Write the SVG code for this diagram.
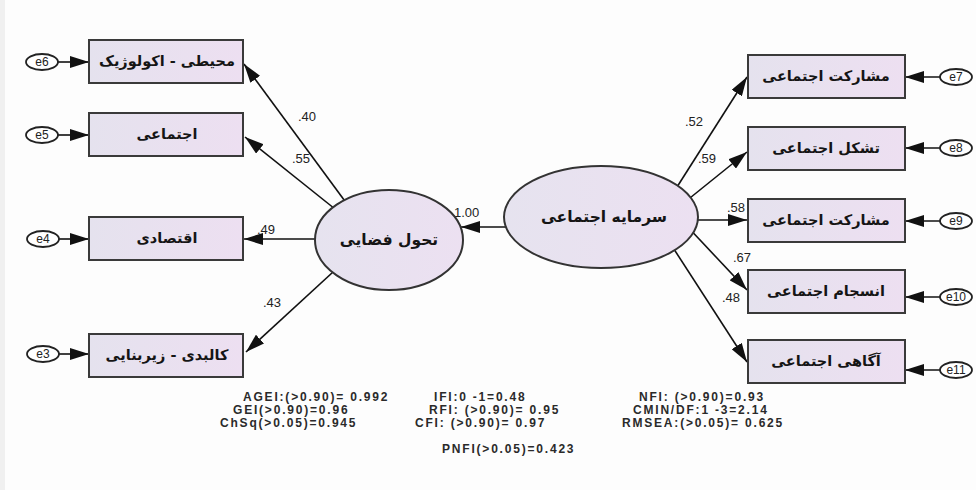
<svg xmlns="http://www.w3.org/2000/svg" width="976" height="490" viewBox="0 0 976 490">
<defs>
<linearGradient id="boxg" x1="0" y1="0" x2="1" y2="0">
<stop offset="0" stop-color="#e5e2ee"/><stop offset="1" stop-color="#eddff1"/>
</linearGradient>
<linearGradient id="ellg" x1="0" y1="0" x2="1" y2="0">
<stop offset="0" stop-color="#e6e3ef"/><stop offset="1" stop-color="#ece0f1"/>
</linearGradient>
<marker id="ah" markerUnits="userSpaceOnUse" markerWidth="20" markerHeight="12" refX="19" refY="6" orient="auto">
<path d="M0,0 L19,6 L0,12 z" fill="#111"/>
</marker>
<style>
.box{fill:url(#boxg);stroke:#3a3a3a;stroke-width:2}
.lat{fill:url(#ellg);stroke:#333;stroke-width:2}
.err{fill:#fff;stroke:#222;stroke-width:1.8}
.fa{font-family:"DejaVu Sans",sans-serif;font-weight:bold;font-size:14.5px;fill:#151515;text-anchor:middle}
.fl{font-size:15.5px}
.et{font-family:"Liberation Sans",Arial,sans-serif;font-size:12px;fill:#222;text-anchor:middle}
.num{font-family:"Liberation Sans",Arial,sans-serif;font-size:13px;fill:#222}
.fit{font-family:"Liberation Sans",Arial,sans-serif;font-size:12px;font-weight:bold;fill:#2a2a2a;letter-spacing:1.8px}
.con{stroke:#111;stroke-width:1.6;fill:none;marker-end:url(#ah)}
</style>
</defs>
<rect width="976" height="490" fill="#fdfdfd"/>
<rect x="0" y="0" width="5" height="490" fill="#f0f0f0"/>

<g id="connectors">
<line class="con" x1="58" y1="62" x2="89" y2="62"/>
<line class="con" x1="58" y1="135" x2="89" y2="135"/>
<line class="con" x1="59" y1="239" x2="89" y2="239"/>
<line class="con" x1="59" y1="354" x2="89" y2="354"/>
<line class="con" x1="940" y1="77" x2="905" y2="77"/>
<line class="con" x1="940" y1="148" x2="905" y2="148"/>
<line class="con" x1="940" y1="221" x2="905" y2="221"/>
<line class="con" x1="940" y1="297" x2="905" y2="297"/>
<line class="con" x1="940" y1="370" x2="905" y2="370"/>
<line class="con" x1="350" y1="208" x2="244" y2="64"/>
<line class="con" x1="340" y1="213" x2="245" y2="137"/>
<line class="con" x1="330" y1="239" x2="244" y2="239"/>
<line class="con" x1="345" y1="261" x2="246" y2="352"/>
<line class="con" x1="515" y1="227" x2="461" y2="227"/>
<line class="con" x1="670" y1="198" x2="747" y2="77"/>
<line class="con" x1="680" y1="206" x2="747" y2="152"/>
<line class="con" x1="690" y1="220" x2="747" y2="220"/>
<line class="con" x1="685" y1="224" x2="747" y2="290"/>
<line class="con" x1="670" y1="243" x2="747" y2="362"/>
</g>

<g id="labels">
<text class="num" x="298" y="121">.40</text>
<text class="num" x="292" y="163">.55</text>
<text class="num" x="257" y="234">.49</text>
<text class="num" x="263" y="307">.43</text>
<text class="num" x="454" y="217">1.00</text>
<text class="num" x="685" y="126">.52</text>
<text class="num" x="698" y="163">.59</text>
<text class="num" x="727" y="212">.58</text>
<text class="num" x="733" y="262">.67</text>
<text class="num" x="722" y="302">.48</text>
</g>

<g id="lat-space"><ellipse class="lat" cx="389" cy="240" rx="74" ry="50"/><text class="fa fl" x="389" y="245">تحول فضایی</text></g>
<g id="lat-social"><ellipse class="lat" cx="601" cy="217" rx="97" ry="51"/><text class="fa fl" x="604" y="222">سرمایه اجتماعی</text></g>

<g id="box1"><rect class="box" x="89" y="40" width="154" height="43"/><text class="fa" x="167" y="66">محیطی - اکولوژیک</text></g>
<g id="box2"><rect class="box" x="89" y="113" width="154" height="43"/><text class="fa" x="167" y="139">اجتماعی</text></g>
<g id="box3"><rect class="box" x="89" y="217" width="154" height="43"/><text class="fa" x="167" y="243">اقتصادی</text></g>
<g id="box4"><rect class="box" x="89" y="334" width="154" height="43"/><text class="fa" x="167" y="360">کالبدی - زیربنایی</text></g>
<g id="box7"><rect class="box" x="748" y="55" width="157" height="43"/><text class="fa" x="826" y="81">مشارکت اجتماعی</text></g>
<g id="box8"><rect class="box" x="748" y="127" width="157" height="43"/><text class="fa" x="826" y="153">تشکل اجتماعی</text></g>
<g id="box9"><rect class="box" x="748" y="199" width="157" height="43"/><text class="fa" x="826" y="225">مشارکت اجتماعی</text></g>
<g id="box10"><rect class="box" x="748" y="270" width="157" height="43"/><text class="fa" x="826" y="296">انسجام اجتماعی</text></g>
<g id="box11"><rect class="box" x="748" y="340" width="157" height="43"/><text class="fa" x="826" y="366">آگاهی اجتماعی</text></g>

<g id="e6"><ellipse class="err" cx="42" cy="62" rx="16" ry="8"/><text class="et" x="42" y="66">e6</text></g>
<g id="e5"><ellipse class="err" cx="42" cy="135" rx="16" ry="8"/><text class="et" x="42" y="139">e5</text></g>
<g id="e4"><ellipse class="err" cx="43" cy="239" rx="16" ry="8"/><text class="et" x="43" y="243">e4</text></g>
<g id="e3"><ellipse class="err" cx="43" cy="354" rx="16" ry="8"/><text class="et" x="43" y="358">e3</text></g>
<g id="e7"><ellipse class="err" cx="956" cy="77" rx="16" ry="8"/><text class="et" x="956" y="81">e7</text></g>
<g id="e8"><ellipse class="err" cx="956" cy="148" rx="16" ry="8"/><text class="et" x="956" y="152">e8</text></g>
<g id="e9"><ellipse class="err" cx="956" cy="221" rx="16" ry="8"/><text class="et" x="956" y="225">e9</text></g>
<g id="e10"><ellipse class="err" cx="956" cy="297" rx="16" ry="8"/><text class="et" x="956" y="301">e10</text></g>
<g id="e11"><ellipse class="err" cx="956" cy="370" rx="16" ry="8"/><text class="et" x="956" y="374">e11</text></g>

<g id="fit-stats">
<text class="fit" x="243" y="401">AGEI:(&gt;0.90)= 0.992</text>
<text class="fit" x="233" y="414">GEI(&gt;0.90)=0.96</text>
<text class="fit" x="220" y="427">ChSq(&gt;0.05)=0.945</text>
<text class="fit" x="434" y="401">IFI:0 -1=0.48</text>
<text class="fit" x="429" y="414">RFI: (&gt;0.90)= 0.95</text>
<text class="fit" x="415" y="427">CFI: (&gt;0.90)= 0.97</text>
<text class="fit" x="442" y="453">PNFI(&gt;0.05)=0.423</text>
<text class="fit" x="639" y="401">NFI: (&gt;0.90)=0.93</text>
<text class="fit" x="633" y="414">CMIN/DF:1 -3=2.14</text>
<text class="fit" x="622" y="427">RMSEA:(&gt;0.05)= 0.625</text>
</g>
</svg>
